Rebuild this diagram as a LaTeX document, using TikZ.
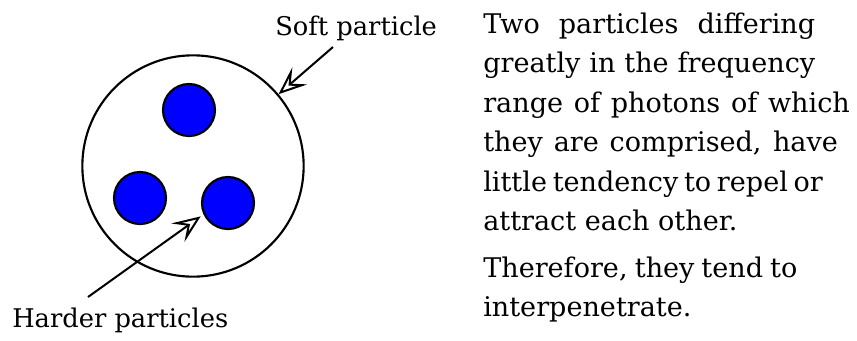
\documentclass[tikz,border=0pt]{standalone}
\usepackage{fontspec}
\setmainfont{DejaVu Serif}
\usetikzlibrary{arrows.meta,positioning}

\begin{document}
\begin{tikzpicture}[
  x=0.75pt, y=-0.75pt,
  lbl/.style={anchor=base west, inner sep=0pt, font=\fontsize{19.3pt}{22pt}\selectfont},
  txt/.style={anchor=base west, inner sep=0pt, font=\fontsize{20.3pt}{22pt}\selectfont},
  soft/.style={circle, draw, line width=1.6pt, minimum size=166pt, inner sep=0pt},
  hard/.style={circle, draw, line width=1.6pt, fill={rgb,255:red,0;green,0;blue,255},
               minimum size=39pt, inner sep=0pt},
  arr/.style={-{Stealth[open, length=21pt, width=17pt, inset=9pt]}, line width=1.5pt}
]
\useasboundingbox (0,0) rectangle (857,340);
% particles
\node[soft] (big) at (193,166) {};
\node[hard] (h1) at (189,110) {};
\node[hard] (h2) at (140,198) {};
\node[hard] (h3) at (228,203) {};
% labels
\node[lbl] (lsoft) at (275,35) {Soft particle};
\node[lbl] (lhard) at (12,327) {Harder particles};
\coordinate (ssoft) at (333,47);
\coordinate (shard) at (88,297);
\draw[arr] (ssoft) -- (big.40);
\draw[arr] (shard) -- ([shift={(-3,1.5)}]h3.206);
% text
\node[txt] (t1) at (483,33) {\makebox[249pt][s]{Two particles differing}};
\node[txt] (t2) at (483,72.5) {\makebox[249pt][s]{greatly in the frequency}};
\node[txt] (t3) at (483,112) {\makebox[275pt][s]{range of photons of which}};
\node[txt] (t4) at (483,151.5) {\makebox[266pt][s]{they are comprised, have}};
\node[txt] (t5) at (483,191) {\makebox[254pt][s]{little tendency to repel or}};
\node[txt] (t6) at (483,230.5) {attract each other.};
\node[txt] (t7) at (483,277) {\makebox[235.5pt][s]{Therefore, they tend to}};
\node[txt] (t8) at (483,316.5) {interpenetrate.};
\end{tikzpicture}
\end{document}
